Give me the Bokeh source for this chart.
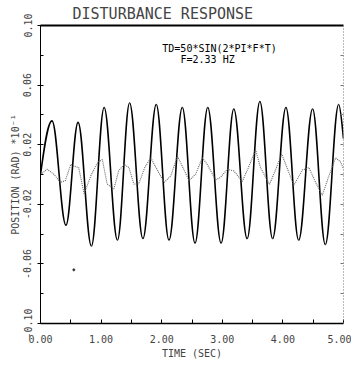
from bokeh.plotting import figure
from bokeh.models import FixedTicker, Label, Range1d, ColumnDataSource, LinearAxis
from bokeh.embed import file_html
from bokeh.resources import INLINE

# ---- text ----
title_text = "DISTURBANCE RESPONSE"
x_label = "TIME (SEC)"
y_label = "POSITION (RAD) *10⁻¹"
note_line1 = "TD=50*SIN(2*PI*F*T)"
note_line2 = "F=2.33 HZ"

# ---- ticks ----
x_ticks = [0, 1, 2, 3, 4, 5]
x_tick_labels = ["0.00", "1.00", "2.00", "3.00", "4.00", "5.00"]
x_minor_ticks = [0.5, 1.5, 2.5, 3.5, 4.5]
y_ticks = [-0.10, -0.06, -0.02, 0.02, 0.06, 0.10]
y_tick_labels = ["-0.10", "-0.06", "-0.02", "0.02", "0.06", "0.10"]
y_minor_ticks = [-0.08, -0.04, 0.0, 0.04, 0.08]
right_ticks = [-0.08, -0.06, -0.04, -0.02, 0.0, 0.02, 0.04, 0.06, 0.08]

# ---- solid response: start, successive peaks/troughs, end ----
solid_t = [0.00, 0.19, 0.42, 0.62, 0.84, 1.05, 1.27, 1.47, 1.69, 1.91, 2.12, 2.34,
           2.55, 2.76, 2.98, 3.19, 3.41, 3.62, 3.83, 4.05, 4.26, 4.49, 4.70, 4.92, 5.00]
solid_v = [0.000, 0.036, -0.034, 0.035, -0.048, 0.045, -0.044, 0.048, -0.043, 0.047,
           -0.044, 0.045, -0.046, 0.045, -0.046, 0.044, -0.043, 0.049, -0.043, 0.045,
           -0.044, 0.044, -0.047, 0.047, 0.024]

# ---- dotted response ----
dotted_t = [0.00, 0.11, 0.22, 0.33, 0.41, 0.50, 0.55, 0.63, 0.72, 0.83, 0.94, 1.02,
            1.10, 1.21, 1.29, 1.38, 1.46, 1.54, 1.62, 1.72, 1.82, 1.95, 2.04, 2.15,
            2.26, 2.39, 2.45, 2.56, 2.67, 2.75, 2.89, 2.97, 3.08, 3.19, 3.33, 3.43,
            3.55, 3.63, 3.78, 3.88, 3.98, 4.08, 4.18, 4.32, 4.43, 4.54, 4.65, 4.75,
            4.87, 4.95, 5.00]
dotted_v = [0.0000, 0.0035, 0.0002, -0.0053, -0.0041, 0.0068, 0.0057, 0.0046, -0.0130,
            -0.0009, 0.0079, 0.0101, -0.0064, -0.0097, 0.0024, 0.0068, 0.0046, -0.0064,
            -0.0064, 0.0046, 0.0112, 0.0013, -0.0053, -0.0009, 0.0123, 0.0013, -0.0041,
            0.0002, 0.0112, 0.0068, -0.0036, -0.0020, 0.0035, 0.0024, -0.0046, 0.0046,
            0.0166, 0.0046, -0.0066, 0.0033, 0.0138, 0.0033, -0.0074, 0.0030, 0.0046,
            -0.0053, -0.0140, -0.0020, 0.0112, 0.0086, 0.0035]

# stray plotter dot
stray_t = [0.55]
stray_v = [-0.064]

FONT = "DejaVu Sans Mono"

p = figure(width=351, height=361, x_range=Range1d(0, 5), y_range=Range1d(-0.10, 0.10),
           output_backend="svg", toolbar_location=None,
           min_border_left=40, min_border_right=8, min_border_top=20, min_border_bottom=37)
p.outline_line_color = None
p.grid.visible = False
p.background_fill_color = "white"

p.title.text = title_text
p.title.text_font = FONT
p.title.text_font_size = "15px"
p.title.text_font_style = "normal"
p.title.align = "left"
p.title.offset = 32
p.title.standoff = 5

# bottom axis
xa = p.xaxis[0]
xa.ticker = FixedTicker(ticks=x_ticks, minor_ticks=x_minor_ticks)
xa.major_label_overrides = {t: l for t, l in zip(x_ticks, x_tick_labels)}
xa.axis_label = x_label
xa.axis_label_text_font = FONT
xa.axis_label_text_font_size = "10px"
xa.axis_label_text_font_style = "normal"
xa.axis_label_standoff = 2
xa.major_label_text_font = FONT
xa.major_label_text_font_size = "10px"
xa.major_label_standoff = 11
xa.major_tick_in = 4
xa.major_tick_out = 0
xa.minor_tick_in = 4
xa.minor_tick_out = 0
xa.axis_line_width = 1.5

# left axis
ya = p.yaxis[0]
ya.ticker = FixedTicker(ticks=y_ticks, minor_ticks=y_minor_ticks)
ya.major_label_overrides = {t: l for t, l in zip(y_ticks, y_tick_labels)}
ya.major_label_orientation = "vertical"
ya.axis_label = y_label
ya.axis_label_text_font = FONT
ya.axis_label_text_font_size = "10px"
ya.axis_label_text_font_style = "normal"
ya.axis_label_standoff = 0
ya.major_label_text_font = FONT
ya.major_label_text_font_size = "10px"
ya.major_label_standoff = 6
ya.major_tick_in = 3
ya.major_tick_out = 3
ya.minor_tick_in = 3
ya.minor_tick_out = 0
ya.axis_line_width = 1

# top border: solid line only, no ticks / labels
top = LinearAxis(ticker=FixedTicker(ticks=[], minor_ticks=[]), axis_line_width=1.8,
                 axis_line_color="black", major_label_standoff=0,
                 major_tick_in=0, major_tick_out=0, minor_tick_in=0, minor_tick_out=0)
p.add_layout(top, "above")

# right border: dotted, small inside ticks
right = LinearAxis(ticker=FixedTicker(ticks=[], minor_ticks=right_ticks),
                   axis_line_color="#777777", axis_line_dash="1 2", axis_line_width=1,
                   minor_tick_in=3, minor_tick_out=0, minor_tick_line_color="#777777",
                   major_tick_in=0, major_tick_out=0, major_label_standoff=0)
p.add_layout(right, "right")

# solid curve: smooth segments between successive read extremes
x0 = solid_t[:-1]
x1 = solid_t[1:]
y0 = solid_v[:-1]
y1 = solid_v[1:]
cx0, cy0, cx1, cy1 = [], [], [], []
n = len(x0)
for i in range(n):
    dt = x1[i] - x0[i]
    dv = y1[i] - y0[i]
    if i == 0:
        cx0.append(x0[i] + 0.326 * dt); cy0.append(y0[i] + 0.512 * dv)
        cx1.append(x1[i] - 0.363 * dt); cy1.append(y1[i])
    elif i == n - 1:
        cx0.append(x0[i] + 0.36 * dt); cy0.append(y0[i])
        cx1.append(x1[i] - 0.3 * dt); cy1.append(y1[i] - 0.4 * dv)
    else:
        cx0.append(x0[i] + 0.364 * dt); cy0.append(y0[i])
        cx1.append(x1[i] - 0.364 * dt); cy1.append(y1[i])

src = ColumnDataSource(dict(x0=x0, y0=y0, x1=x1, y1=y1, cx0=cx0, cy0=cy0, cx1=cx1, cy1=cy1))
p.bezier(x0="x0", y0="y0", x1="x1", y1="y1", cx0="cx0", cy0="cy0", cx1="cx1", cy1="cy1",
         source=src, line_color="black", line_width=1.6)

p.line(dotted_t, dotted_v, line_color="#666666", line_width=1.1, line_dash="1 1")
p.scatter(stray_t, stray_v, size=2, color="#333333")

p.add_layout(Label(x=2.01, y=0.0845, text=note_line1, text_font=FONT, text_font_size="10px",
                   text_baseline="middle", text_color="black"))
p.add_layout(Label(x=2.31, y=0.0772, text=note_line2, text_font=FONT, text_font_size="10px",
                   text_baseline="middle", text_color="black"))

open("out.html", "w").write(file_html(p, INLINE))
